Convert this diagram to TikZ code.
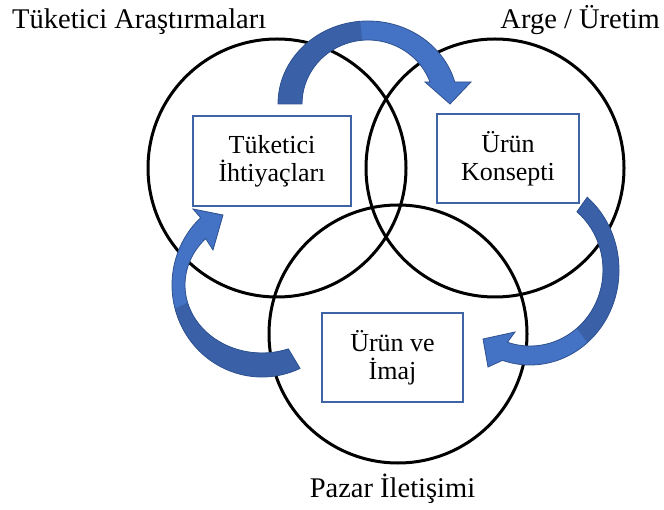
\documentclass[tikz,border=0pt]{standalone}
\usepackage{fontspec}
\setmainfont{Liberation Serif}
\definecolor{arrlight}{HTML}{4472C4}
\definecolor{arrdark}{HTML}{3A60A8}
\definecolor{arredge}{HTML}{2F528F}
\definecolor{boxedge}{HTML}{3E64A6}
\tikzset{
  venn/.style={draw=black, line width=3pt},
  infobox/.style={draw=boxedge, line width=2pt, fill=white, align=center, inner sep=0pt,
    font=\fontsize{26}{28}\selectfont},
  toplabel/.style={inner sep=0pt, font=\fontsize{28.5}{30}\selectfont},
  arrfill/.style={fill=arrlight},
  arrshade/.style={fill=arrdark},
  arrline/.style={draw=arredge, line width=0.8pt, line join=miter}
}
\begin{document}
\begin{tikzpicture}[x=1pt,y=1pt]
\useasboundingbox (0,0) rectangle (664,509);
% circles
\coordinate (c1) at (277,341);
\coordinate (c2) at (495,341);
\coordinate (c3) at (398,175);
\draw[venn] (c1) circle[radius=129];
\draw[venn] (c2) circle[radius=129];
\draw[venn] (c3) circle[radius=129];
% boxes
\node[infobox, minimum width=158pt, minimum height=90pt] (need) at (272,348) {Tüketici\\İhtiyaçları};
\node[infobox, minimum width=142pt, minimum height=89pt] (concept) at (508,350.5) {Ürün\\Konsepti};
\node[infobox, minimum width=141pt, minimum height=89pt] (image) at (392.5,151.5) {Ürün ve\\İmaj};
% top arrow
\coordinate (tc) at (368,405);
\path[arrfill] ([shift={(tc)}]180:90 and 83) arc[start angle=180,end angle=15.4,x radius=90,y radius=83]
  -- (471,427) -- (450,405) -- (425,427)
  -- ([shift={(tc)}]20.1:66 and 64) arc[start angle=20.1,end angle=180,x radius=66,y radius=64] -- cycle;
\path[arrshade] ([shift={(tc)}]180:90 and 83) arc[start angle=180,end angle=95,x radius=90,y radius=83]
  -- ([shift={(tc)}]95:66 and 64) arc[start angle=95,end angle=180,x radius=66,y radius=64] -- cycle;
\path[arrline] ([shift={(tc)}]180:90 and 83) arc[start angle=180,end angle=15.4,x radius=90,y radius=83]
  -- (471,427) -- (450,405) -- (425,427)
  -- ([shift={(tc)}]20.1:66 and 64) arc[start angle=20.1,end angle=180,x radius=66,y radius=64] -- cycle;
% right arrow
\coordinate (rc) at (530,239);
\path[arrfill] ([shift={(rc)}]50:89 and 95) arc[start angle=50,end angle=-108,x radius=89,y radius=95]
  -- (488,142) -- (483,170) -- (515,177)
  -- ([shift={(rc)}]-108:73 and 76) arc[start angle=-108,end angle=50,x radius=73,y radius=76] -- cycle;
\path[arrshade] ([shift={(rc)}]50:89 and 95) arc[start angle=50,end angle=-50,x radius=89,y radius=95]
  -- ([shift={(rc)}]-50:73 and 76) arc[start angle=-50,end angle=50,x radius=73,y radius=76] -- cycle;
\path[arrline] ([shift={(rc)}]50:89 and 95) arc[start angle=50,end angle=-108,x radius=89,y radius=95]
  -- (488,142) -- (483,170) -- (515,177)
  -- ([shift={(rc)}]-108:73 and 76) arc[start angle=-108,end angle=50,x radius=73,y radius=76] -- cycle;
% left arrow
\coordinate (lc) at (262,224);
\path[arrfill] ([shift={(lc)}]-65:90 and 92) arc[start angle=-65,end angle=-227,x radius=90,y radius=92]
  -- (193,300) -- (223,294) -- (213,259)
  -- ([shift={(lc)}]-223:77 and 68) arc[start angle=-223,end angle=-70,x radius=77,y radius=68] -- cycle;
\path[arrshade] ([shift={(lc)}]-65:90 and 92) arc[start angle=-65,end angle=-165,x radius=90,y radius=92]
  -- ([shift={(lc)}]-165:77 and 68) arc[start angle=-165,end angle=-70,x radius=77,y radius=68] -- cycle;
\path[arrline] ([shift={(lc)}]-65:90 and 92) arc[start angle=-65,end angle=-227,x radius=90,y radius=92]
  -- (193,300) -- (223,294) -- (213,259)
  -- ([shift={(lc)}]-223:77 and 68) arc[start angle=-223,end angle=-70,x radius=77,y radius=68] -- cycle;
% labels
\node[toplabel, anchor=base west] (lab1) at (12,480) {Tüketici Araştırmaları};
\node[toplabel, anchor=base east] (lab2) at (660,480) {Arge / Üretim};
\node[toplabel, anchor=base] (lab3) at (392.5,12) {Pazar İletişimi};
\end{tikzpicture}
\end{document}
